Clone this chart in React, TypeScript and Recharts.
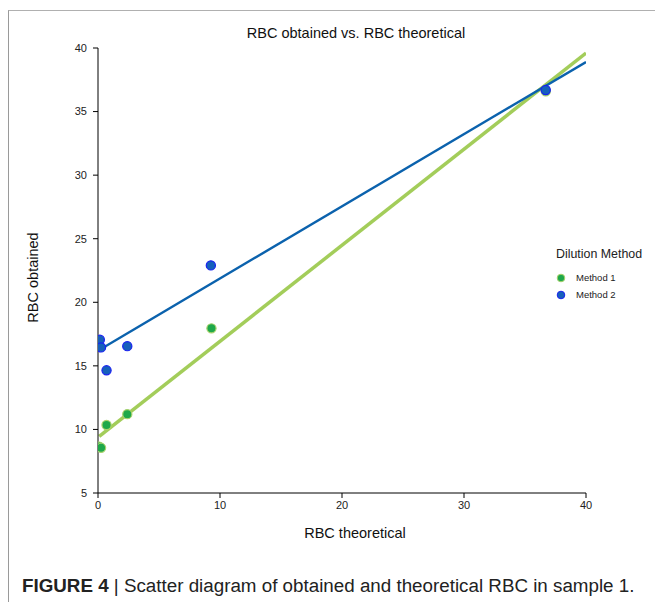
import React from "react";
import {
  ComposedChart,
  Scatter,
  Line,
  XAxis,
  YAxis,
  Legend,
} from "recharts";

const xTicks = [0, 10, 20, 30, 40];
const yTicks = [5, 10, 15, 20, 25, 30, 35, 40];

const method1 = [
  { x: 0.1, y: 8.65 },
  { x: 0.25, y: 8.55 },
  { x: 0.7, y: 10.35 },
  { x: 2.4, y: 11.2 },
  { x: 9.3, y: 17.95 },
  { x: 36.7, y: 36.6 },
];

const method2 = [
  { x: 0.15, y: 17.05 },
  { x: 0.25, y: 16.45 },
  { x: 0.7, y: 14.65 },
  { x: 2.4, y: 16.55 },
  { x: 9.25, y: 22.9 },
  { x: 36.7, y: 36.7 },
];

const fit1 = [
  { x: 0.1, y: 9.45 },
  { x: 40, y: 39.6 },
];

const fit2 = [
  { x: 0.1, y: 16.25 },
  { x: 40, y: 38.9 },
];

const FONT = "'Liberation Sans', Arial, Helvetica, sans-serif";

const GreenDot = (props: any) => (
  <circle cx={props.cx} cy={props.cy} r={4.6} fill="#1ea84a" stroke="#a9d26c" strokeWidth={1.2} />
);
const BlueDot = (props: any) => (
  <circle cx={props.cx} cy={props.cy} r={4.6} fill="#1660bb" stroke="#1a22f0" strokeWidth={1.2} />
);

const LegendContent = () => (
  <div style={{ fontFamily: FONT, color: "#222" }}>
    <div style={{ fontSize: 12.4, marginBottom: 8 }}>Dilution Method</div>
    {[
      { name: "Method 1", fill: "#1ea84a", stroke: "#a9d26c" },
      { name: "Method 2", fill: "#1660bb", stroke: "#1a22f0" },
    ].map((it) => (
      <div key={it.name} style={{ display: "flex", alignItems: "center", height: 17, fontSize: 9.5 }}>
        <svg width={12} height={12} style={{ marginLeft: 0, marginRight: 8 }}>
          <circle cx={5} cy={6} r={3.8} fill={it.fill} stroke={it.stroke} strokeWidth={1} />
        </svg>
        <span>{it.name}</span>
      </div>
    ))}
  </div>
);

const YTitle = (props: any) => {
  const vb = props.viewBox || {};
  const cx = vb.x - 5;
  const cy = vb.y + vb.height / 2 + 7;
  return (
    <text
      x={cx}
      y={cy}
      transform={`rotate(-90 ${cx} ${cy})`}
      textAnchor="middle"
      dominantBaseline="central"
      fill="#111"
      fontSize={14.5}
      fontFamily={FONT}
    >
      RBC obtained
    </text>
  );
};

const XTitle = (props: any) => {
  const vb = props.viewBox || {};
  const cx = vb.x + vb.width / 2 + 13;
  const cy = vb.y + 40;
  return (
    <text
      x={cx}
      y={cy}
      textAnchor="middle"
      dominantBaseline="central"
      fill="#111"
      fontSize={14.5}
      fontFamily={FONT}
    >
      RBC theoretical
    </text>
  );
};

export default function App() {
  return (
    <div
      style={{
        position: "absolute",
        left: 0,
        top: 0,
        width: 655,
        height: 602,
        background: "#fff",
        overflow: "hidden",
      }}
    >
      <div
        style={{
          position: "absolute",
          left: 8,
          top: 10,
          width: 660,
          height: 600,
          borderLeft: "1px solid #9a9a9a",
          borderTop: "1px solid #b0b0b0",
        }}
      />
      <div
        style={{
          position: "absolute",
          left: 0,
          width: 712,
          top: 25,
          textAlign: "center",
          fontFamily: FONT,
          fontSize: 14.5,
          color: "#111",
        }}
      >
        RBC obtained vs. RBC theoretical
      </div>
      <div style={{ position: "absolute", left: 0, top: 0 }}>
        <ComposedChart
          width={655}
          height={560}
          margin={{ top: 48, right: 69, bottom: 22, left: 38 }}
        >
          <XAxis
            type="number"
            dataKey="x"
            domain={[0, 40]}
            ticks={xTicks}
            allowDataOverflow
            stroke="#000"
            tick={{ fill: "#222", fontSize: 11, fontFamily: FONT }}
            tickSize={5}
            tickMargin={3}
            height={45}
            label={<XTitle />}
          />
          <YAxis
            type="number"
            dataKey="y"
            domain={[5, 40]}
            ticks={yTicks}
            allowDataOverflow
            stroke="#000"
            tick={{ fill: "#222", fontSize: 11, fontFamily: FONT }}
            tickSize={5}
            tickMargin={6}
            width={60}
            label={<YTitle />}
          />
          <Legend
            layout="horizontal"
            align="center"
            verticalAlign="middle"
            content={<LegendContent />}
            wrapperStyle={{ position: "absolute", left: 556, top: 247, width: 100 }}
          />
          <Line
            data={fit1}
            dataKey="y"
            stroke="#a3cd5a"
            strokeWidth={3.5}
            dot={false}
            activeDot={false}
            isAnimationActive={false}
            legendType="none"
          />
          <Line
            data={fit2}
            dataKey="y"
            stroke="#0b62ad"
            strokeWidth={2.4}
            dot={false}
            activeDot={false}
            isAnimationActive={false}
            legendType="none"
          />
          <Scatter name="Method 1" data={method1} shape={<GreenDot />} isAnimationActive={false} />
          <Scatter name="Method 2" data={method2} shape={<BlueDot />} isAnimationActive={false} />
        </ComposedChart>
      </div>
      <div
        style={{
          position: "absolute",
          left: 22,
          top: 575,
          fontFamily: "'Liberation Sans Narrow', 'Liberation Sans', Arial, sans-serif",
          fontSize: 18.8,
          color: "#222",
          whiteSpace: "nowrap",
        }}
      >
        <b>FIGURE 4</b> | Scatter diagram of obtained and theoretical RBC in sample 1.
      </div>
    </div>
  );
}
